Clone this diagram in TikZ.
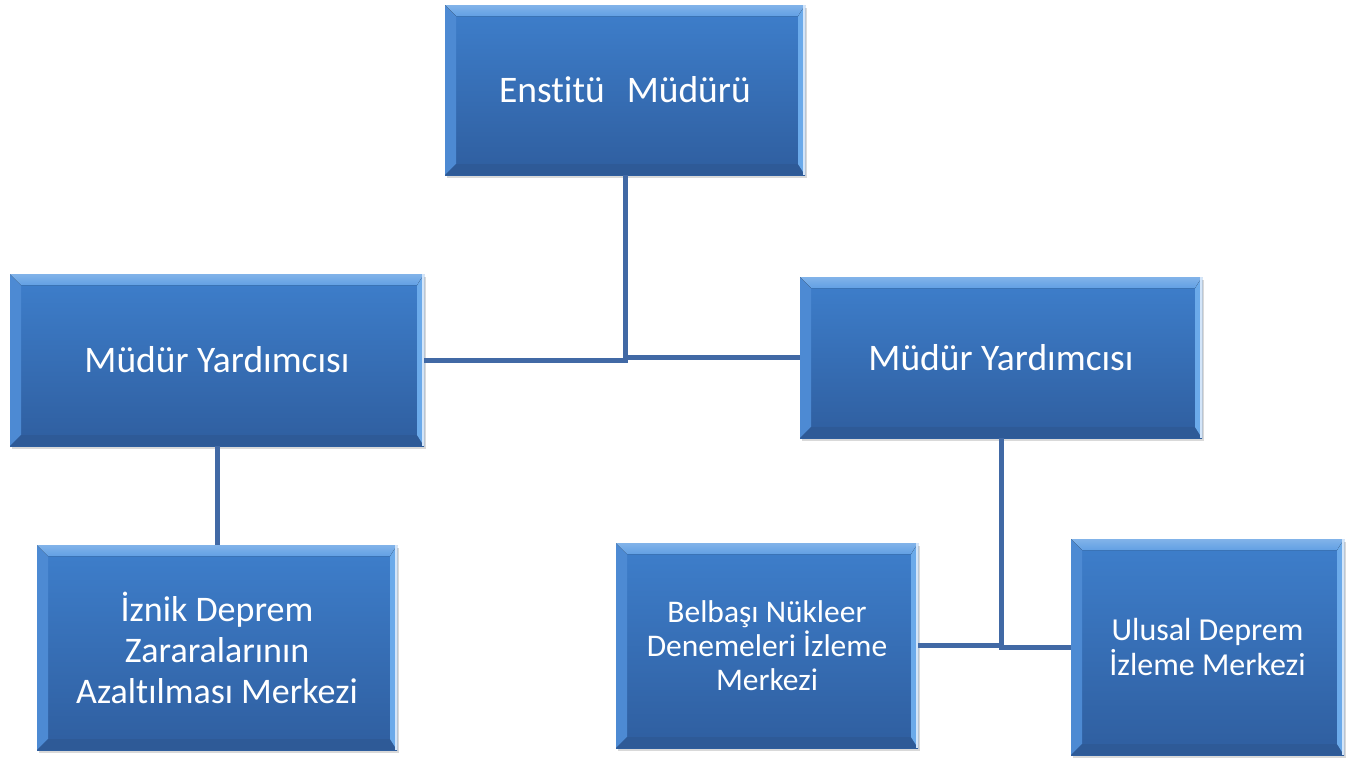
\documentclass[tikz,border=0pt]{standalone}
\usepackage{fontspec}
\setmainfont{Carlito}[Ligatures=NoCommon]
\usetikzlibrary{calc,shadows}
\definecolor{facetop}{HTML}{3E7FCC}
\definecolor{facebot}{HTML}{2F5E9F}
\definecolor{bevtop}{HTML}{62A0E4}
\definecolor{bevleft}{HTML}{4D8AD3}
\definecolor{bevright}{HTML}{6BAAEA}
\definecolor{bevbot}{HTML}{2E5A97}
\definecolor{linkcol}{HTML}{4169A5}
\tikzset{
  bevelbox/.style={rectangle, inner sep=0pt, text=white, align=center,
    top color=facetop, bottom color=facebot, draw=none,
    drop shadow={shadow xshift=2pt, shadow yshift=-3pt, opacity=0.25, fill=black!60},
    path picture={
      \path (path picture bounding box.south west) coordinate (bsw)
            (path picture bounding box.north east) coordinate (bne);
      \fill[bevleft] (bsw) -- (bsw|-bne) -- ($(bsw|-bne)+(11,-11)$) -- ($(bsw)+(11,11)$) -- cycle;
      \fill[bevbot] (bsw) -- (bne|-bsw) -- ($(bne|-bsw)+(-7,11)$) -- ($(bsw)+(11,11)$) -- cycle;
      \fill[bevright] (bne) -- (bne|-bsw) -- ($(bne|-bsw)+(-7,11)$) -- ($(bne)+(-7,-11)$) -- cycle;
      \fill[top color=bevtop!80!white, bottom color=bevtop] (bsw|-bne) -- (bne) -- ($(bne)+(-7,-11)$) -- ($(bsw|-bne)+(11,-11)$) -- cycle;
      \draw[white!70!bevright, line width=1.5pt] ($(bne)+(-1,0)$) -- ($(bne|-bsw)+(-1,0)$);
    }},
  link/.style={draw=linkcol, line width=5pt}
}
\begin{document}
\begin{tikzpicture}[x=1pt,y=1pt]
\useasboundingbox (0,0) rectangle (1371,-758);
\node[bevelbox, minimum width=360pt, minimum height=170pt, font=\fontsize{37.5}{42}\selectfont] (top) at (625,-90) {Enstitü\hspace{22pt}Müdürü};
\node[bevelbox, minimum width=414pt, minimum height=172pt, font=\fontsize{37.5}{42}\selectfont] (ml) at (217,-360) {Müdür Yardımcısı};
\node[bevelbox, minimum width=402pt, minimum height=161pt, font=\fontsize{37.5}{42}\selectfont] (mr) at (1001,-357.5) {Müdür Yardımcısı};
\node[bevelbox, minimum width=360pt, minimum height=205pt, font=\fontsize{36}{41}\selectfont] (iz) at (217,-647.5) {İznik Deprem\\Zararalarının\\Azaltılması Merkezi};
\node[bevelbox, minimum width=302pt, minimum height=205pt, font=\fontsize{31.5}{34}\selectfont] (bel) at (767,-645.5) {Belbaşı Nükleer\\Denemeleri İzleme\\Merkezi};
\node[bevelbox, minimum width=273pt, minimum height=216pt, font=\fontsize{32}{35}\selectfont] (ul) at (1207.5,-647) {Ulusal Deprem\\İzleme Merkezi};
\draw[link] (top.south) |- (ml.east);
\draw[link] (top.south) |- (mr.west);
\draw[link] (ml.south) -- (iz.north);
\draw[link] (mr.south) |- (bel.east);
\draw[link] (mr.south) |- (ul.west);
\end{tikzpicture}
\end{document}
